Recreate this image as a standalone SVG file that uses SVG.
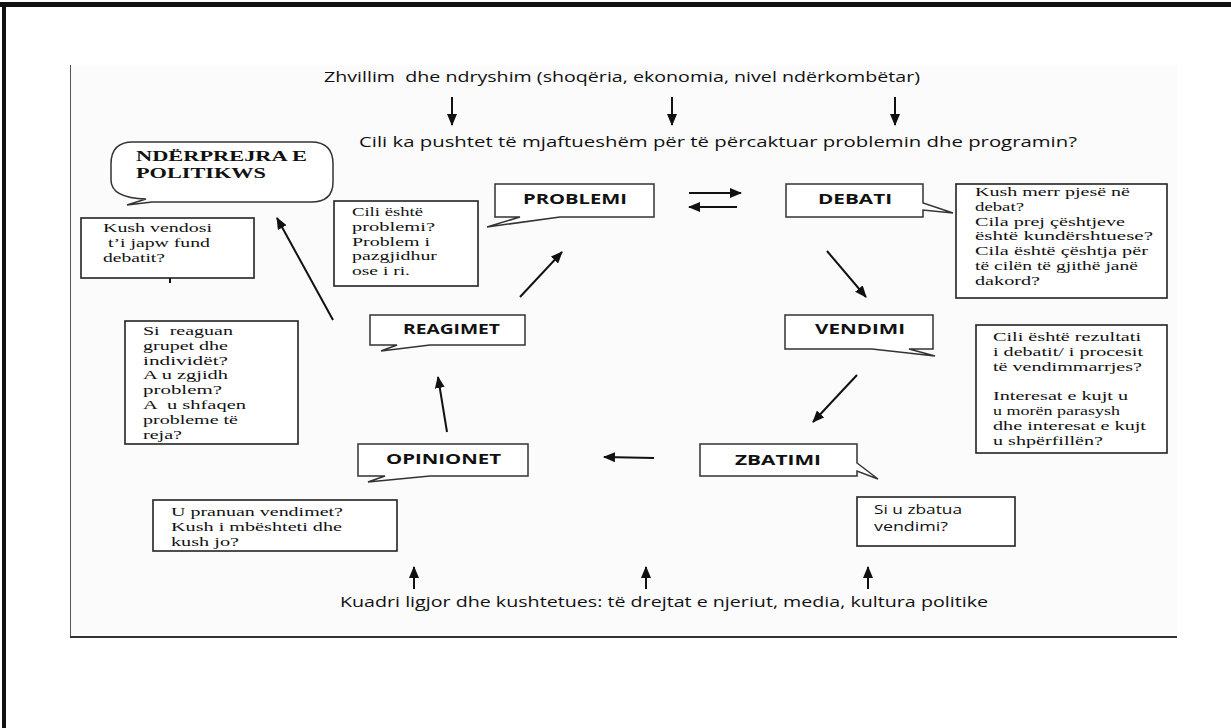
<svg xmlns="http://www.w3.org/2000/svg" width="1231" height="728" viewBox="0 0 1231 728">
<style>
.sans{font-family:"Open Sans","Liberation Sans",sans-serif;fill:#111}
.serif{font-family:"Liberation Serif","Times New Roman",serif;fill:#111;font-size:13.3px}
.hd{font-family:"Liberation Serif","Times New Roman",serif;fill:#111;font-size:15.5px;font-weight:bold}
.lbl{font-family:"Open Sans","Liberation Sans",sans-serif;font-weight:bold;font-size:15px;fill:#111}
.box{fill:#fff;stroke:#222;stroke-width:1.6}
.call{fill:#fff;stroke:#333;stroke-width:1.5;stroke-linejoin:miter}
.conn{stroke:#111;stroke-width:2;fill:none}
</style>
<defs>
<marker id="ah" markerUnits="userSpaceOnUse" markerWidth="12" markerHeight="10" refX="11" refY="5" orient="auto">
<path d="M0,0 L12,5 L0,10 Z" fill="#111"/>
</marker>
</defs>
<rect width="1231" height="728" fill="#fff"/>
<rect x="70" y="65" width="1107" height="572" fill="#fbfbfb"/>
<rect x="0" y="2" width="1231" height="5" fill="#111"/>
<rect x="2" y="2" width="4" height="726" fill="#111"/>
<line x1="70.5" y1="65" x2="70.5" y2="637" stroke="#555" stroke-width="1"/>
<line x1="70" y1="637" x2="1177" y2="637" stroke="#333" stroke-width="2"/>

<g id="top-text">
<text class="sans" x="324" y="82" font-size="15" textLength="596" lengthAdjust="spacingAndGlyphs" xml:space="preserve">Zhvillim  dhe ndryshim (shoqëria, ekonomia, nivel ndërkombëtar)</text>
<text class="sans" x="359" y="147" font-size="15" textLength="718" lengthAdjust="spacingAndGlyphs">Cili ka pushtet të mjaftueshëm për të përcaktuar problemin dhe programin?</text>
</g>
<g id="bottom-text">
<text class="sans" x="340" y="607" font-size="15" textLength="648" lengthAdjust="spacingAndGlyphs">Kuadri ligjor dhe kushtetues: të drejtat e njeriut, media, kultura politike</text>
</g>

<g id="nderprejra">
<path class="call" d="M133,142 H311 Q333,142 333,164 V182 Q333,202 311,202 H152 L127,205 L146,199 Q111,198 111,180 V164 Q111,142 133,142 Z"/>
<text class="hd" x="136" y="161" textLength="171" lengthAdjust="spacingAndGlyphs">NDËRPREJRA E</text>
<text class="hd" x="136" y="178" textLength="130" lengthAdjust="spacingAndGlyphs">POLITIKWS</text>
</g>

<g id="kush-vendosi">
<rect class="box" x="81" y="218" width="173" height="60"/>
<text class="serif" x="103" y="232" textLength="109" lengthAdjust="spacingAndGlyphs">Kush vendosi</text>
<text class="serif" x="103" y="246.8" textLength="107" lengthAdjust="spacingAndGlyphs" xml:space="preserve"> t’i japw fund</text>
<text class="serif" x="103" y="261.6" textLength="62" lengthAdjust="spacingAndGlyphs">debatit?</text>
</g>

<g id="cili-problemi">
<rect class="box" x="334" y="201" width="144" height="85"/>
<text class="serif" x="352" y="216" textLength="71" lengthAdjust="spacingAndGlyphs">Cili është</text>
<text class="serif" x="352" y="230.8" textLength="83" lengthAdjust="spacingAndGlyphs">problemi?</text>
<text class="serif" x="352" y="245.6" textLength="78" lengthAdjust="spacingAndGlyphs">Problem i</text>
<text class="serif" x="352" y="260.4" textLength="85" lengthAdjust="spacingAndGlyphs">pazgjidhur</text>
<text class="serif" x="352" y="275.2" textLength="58" lengthAdjust="spacingAndGlyphs">ose i ri.</text>
</g>

<g id="problemi">
<path class="call" d="M495,184 H654 V217 H560 L487,227 L520,217 H495 Z"/>
<text class="lbl" x="523" y="204" textLength="104" lengthAdjust="spacingAndGlyphs">PROBLEMI</text>
</g>

<g id="debati">
<path class="call" d="M786,184 H923 V203 L953,213 L923,210 V217 H786 Z"/>
<text class="lbl" x="818" y="204" textLength="74" lengthAdjust="spacingAndGlyphs">DEBATI</text>
</g>

<g id="kush-merr">
<rect class="box" x="956" y="184" width="211" height="114"/>
<text class="serif" x="975" y="196" textLength="155" lengthAdjust="spacingAndGlyphs">Kush merr pjesë në</text>
<text class="serif" x="975" y="210.8" textLength="49" lengthAdjust="spacingAndGlyphs">debat?</text>
<text class="serif" x="975" y="225.6" textLength="150" lengthAdjust="spacingAndGlyphs">Cila prej çështjeve</text>
<text class="serif" x="975" y="240.4" textLength="178" lengthAdjust="spacingAndGlyphs">është kundërshtuese?</text>
<text class="serif" x="975" y="255.2" textLength="173" lengthAdjust="spacingAndGlyphs">Cila është çështja për</text>
<text class="serif" x="975" y="270" textLength="163" lengthAdjust="spacingAndGlyphs">të cilën të gjithë janë</text>
<text class="serif" x="975" y="284.8" textLength="65" lengthAdjust="spacingAndGlyphs">dakord?</text>
</g>

<g id="reagimet">
<path class="call" d="M370,315 H525 V345 H430 L381,351 L397,345 H370 Z"/>
<text class="lbl" x="403" y="334" textLength="97" lengthAdjust="spacingAndGlyphs">REAGIMET</text>
</g>

<g id="si-reaguan">
<rect class="box" x="125" y="321" width="173" height="123"/>
<text class="serif" x="143" y="335" textLength="90" lengthAdjust="spacingAndGlyphs" xml:space="preserve">Si  reaguan</text>
<text class="serif" x="143" y="349.8" textLength="85" lengthAdjust="spacingAndGlyphs">grupet dhe</text>
<text class="serif" x="143" y="364.6" textLength="85" lengthAdjust="spacingAndGlyphs">individët?</text>
<text class="serif" x="143" y="379.4" textLength="85" lengthAdjust="spacingAndGlyphs">A u zgjidh</text>
<text class="serif" x="143" y="394.2" textLength="79" lengthAdjust="spacingAndGlyphs">problem?</text>
<text class="serif" x="143" y="409" textLength="103" lengthAdjust="spacingAndGlyphs" xml:space="preserve">A  u shfaqen</text>
<text class="serif" x="143" y="423.8" textLength="95" lengthAdjust="spacingAndGlyphs">probleme të</text>
<text class="serif" x="143" y="438.6" textLength="39" lengthAdjust="spacingAndGlyphs">reja?</text>
</g>

<g id="vendimi">
<path class="call" d="M785,315 H933 V349 H909 L935,356 L872,349 H785 Z"/>
<text class="lbl" x="815" y="334" textLength="90" lengthAdjust="spacingAndGlyphs">VENDIMI</text>
</g>

<g id="cili-rezultati">
<rect class="box" x="976" y="325" width="191" height="128"/>
<text class="serif" x="993" y="341" textLength="148" lengthAdjust="spacingAndGlyphs">Cili është rezultati</text>
<text class="serif" x="993" y="355.8" textLength="150" lengthAdjust="spacingAndGlyphs">i debatit/ i procesit</text>
<text class="serif" x="993" y="370.6" textLength="149" lengthAdjust="spacingAndGlyphs">të vendimmarrjes?</text>
<text class="serif" x="993" y="400.2" textLength="135" lengthAdjust="spacingAndGlyphs">Interesat e kujt u</text>
<text class="serif" x="993" y="415" textLength="127" lengthAdjust="spacingAndGlyphs">u morën parasysh</text>
<text class="serif" x="993" y="429.8" textLength="153" lengthAdjust="spacingAndGlyphs">dhe interesat e kujt</text>
<text class="serif" x="993" y="444.6" textLength="110" lengthAdjust="spacingAndGlyphs">u shpërfillën?</text>
</g>

<g id="opinionet">
<path class="call" d="M358,444 H528 V476 H430 L368,482 L385,476 H358 Z"/>
<text class="lbl" x="386" y="464" textLength="115" lengthAdjust="spacingAndGlyphs">OPINIONET</text>
</g>

<g id="zbatimi">
<path class="call" d="M700,444 H857 V463 L878,479 L857,471 V476 H700 Z"/>
<text class="lbl" x="735" y="465" textLength="86" lengthAdjust="spacingAndGlyphs">ZBATIMI</text>
</g>

<g id="u-pranuan">
<rect class="box" x="153" y="500" width="244" height="51"/>
<text class="serif" x="171" y="516" textLength="172" lengthAdjust="spacingAndGlyphs">U pranuan vendimet?</text>
<text class="serif" x="171" y="530.8" textLength="171" lengthAdjust="spacingAndGlyphs">Kush i mbështeti dhe</text>
<text class="serif" x="171" y="545.6" textLength="68" lengthAdjust="spacingAndGlyphs">kush jo?</text>
</g>

<g id="si-zbatua">
<rect class="box" x="857" y="497" width="158" height="49"/>
<text class="sans" x="874" y="514" font-size="13.5" textLength="88" lengthAdjust="spacingAndGlyphs">Si u zbatua</text>
<text class="sans" x="874" y="531" font-size="13.5" textLength="74" lengthAdjust="spacingAndGlyphs">vendimi?</text>
</g>

<g id="connectors">
<line class="conn" x1="452" y1="97" x2="452" y2="125" marker-end="url(#ah)"/>
<line class="conn" x1="672" y1="97" x2="672" y2="125" marker-end="url(#ah)"/>
<line class="conn" x1="895" y1="97" x2="895" y2="125" marker-end="url(#ah)"/>
<line class="conn" x1="689" y1="193" x2="741" y2="193" marker-end="url(#ah)"/>
<line class="conn" x1="737" y1="207" x2="689" y2="207" marker-end="url(#ah)"/>
<line class="conn" x1="827" y1="251" x2="866" y2="297" marker-end="url(#ah)"/>
<line class="conn" x1="857" y1="375" x2="813" y2="422" marker-end="url(#ah)"/>
<line class="conn" x1="654" y1="458" x2="604" y2="457" marker-end="url(#ah)"/>
<line class="conn" x1="447" y1="432" x2="438" y2="377" marker-end="url(#ah)"/>
<line class="conn" x1="520" y1="297" x2="562" y2="252" marker-end="url(#ah)"/>
<line class="conn" x1="333" y1="320" x2="277" y2="218" marker-end="url(#ah)"/>
<line class="conn" x1="414" y1="589" x2="414" y2="567" marker-end="url(#ah)"/>
<line class="conn" x1="646" y1="589" x2="646" y2="567" marker-end="url(#ah)"/>
<line class="conn" x1="868" y1="589" x2="868" y2="567" stroke-width="3" marker-end="url(#ah)"/>
<line class="conn" x1="170" y1="278" x2="170" y2="283"/>
</g>
</svg>
